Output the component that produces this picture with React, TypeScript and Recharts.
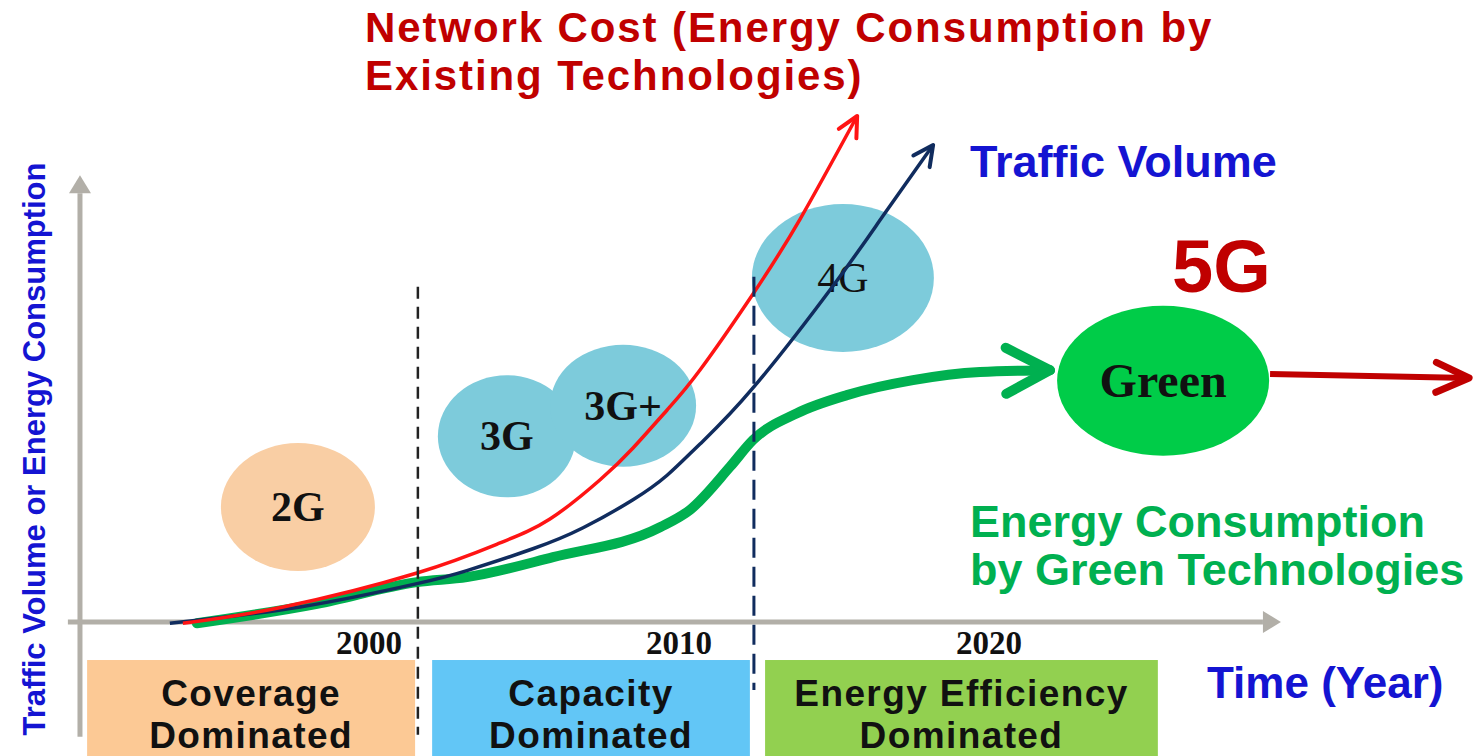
import { ComposedChart, Line, XAxis, YAxis, ReferenceDot, ReferenceArea, ReferenceLine } from 'recharts';

// x is in years, y is an arbitrary "volume / energy" unit (0 = time axis)
const yearTicks = [2000, 2010, 2020];

const networkCost = [
  { x: 1993.9, y: 0 },
  { x: 1997.13, y: 2.61 },
  { x: 2001.45, y: 8.06 },
  { x: 2004.13, y: 12.88 },
  { x: 2005.74, y: 16.73 },
  { x: 2007.35, y: 22.98 },
  { x: 2008.42, y: 28.12 },
  { x: 2009.52, y: 34.22 },
  { x: 2010.58, y: 40.63 },
  { x: 2012.29, y: 52.83 },
  { x: 2013.81, y: 64.86 },
  { x: 2015.65, y: 81.39 },
];

const trafficVolume = [
  { x: 1993.48, y: 0 },
  { x: 1997.68, y: 2.61 },
  { x: 2001.45, y: 6.36 },
  { x: 2003.06, y: 8.45 },
  { x: 2005.19, y: 11.95 },
  { x: 2006.81, y: 15.32 },
  { x: 2008.42, y: 19.81 },
  { x: 2009.52, y: 23.74 },
  { x: 2010.58, y: 28.76 },
  { x: 2012.29, y: 37.75 },
  { x: 2014.87, y: 54.11 },
  { x: 2016.48, y: 65.34 },
  { x: 2018.1, y: 76.73 },
];

const greenEnergy = [
  { x: 1994.35, y: 0 },
  { x: 1998.23, y: 3.1 },
  { x: 2001.45, y: 6.6 },
  { x: 2003.06, y: 7.4 },
  { x: 2005.84, y: 10.6 },
  { x: 2009.29, y: 15.4 },
  { x: 2010.26, y: 18.2 },
  { x: 2011.55, y: 25.1 },
  { x: 2012.29, y: 29.4 },
  { x: 2013.71, y: 33.7 },
  { x: 2015.32, y: 36.6 },
  { x: 2017.45, y: 39.0 },
  { x: 2019.61, y: 40.3 },
  { x: 2021.87, y: 40.6 },
];

const fiveGArrow = [
  { x: 2028.97, y: 40.0 },
  { x: 2035.39, y: 39.35 },
];

const yAxisLine = [
  { x: 1990.58, y: -18.2 },
  { x: 1990.58, y: 69.0 },
];
const xAxisLine = [
  { x: 1990.19, y: 0.2 },
  { x: 2028.74, y: 0.2 },
];

const techLabels = ['2G', '3G', '3G+', '4G', 'Green'];
const techX = [1997.61, 2004.35, 2008.1, 2015.19, 2025.52];
const techY = [18.65, 30.0, 34.9, 55.4, 38.9];

const eraLines = [
  ['Coverage', 'Dominated'],
  ['Capacity', 'Dominated'],
  ['Energy Efficiency', 'Dominated'],
];
const eraStart = [1990.81, 2001.94, 2012.68];
const eraEnd = [2001.39, 2012.19, 2025.35];

const phaseBreaks = [2001.48, 2012.32];
const breakTop = [54.0, 55.6];
const breakBottom = [-17.9, -10.7];

// look only
const bubbleStyle: Record<string, { rx: number; ry: number; fill: string; size: number; weight: number }> = {
  '2G': { rx: 77, ry: 64, fill: '#f9cea4', size: 42, weight: 700 },
  '3G': { rx: 69, ry: 61, fill: '#7dcbdb', size: 42, weight: 700 },
  '3G+': { rx: 73, ry: 61, fill: '#7dcbdb', size: 42, weight: 700 },
  '4G': { rx: 91, ry: 74, fill: '#7dcbdb', size: 42, weight: 400 },
  Green: { rx: 106, ry: 75, fill: '#00cc48', size: 48, weight: 700 },
};
const eraFill = ['#fcc995', '#62c6f6', '#92d050'];

const sans = 'Liberation Sans, Arial, sans-serif';
const serif = 'Liberation Serif, Times New Roman, serif';
const blue = '#1414d2';
const darkRed = '#c00000';
const green = '#00b050';

export default function App() {
  return (
    <div style={{ position: 'absolute', left: 0, top: 0, width: 1482, height: 756, background: '#fff' }}>
      <ComposedChart width={1482} height={756} margin={{ top: 0, right: 0, bottom: 0, left: 0 }}>
        <XAxis type="number" dataKey="x" domain={[1988, 1988 + 1482 / 31]} hide />
        <YAxis type="number" dataKey="y" domain={[-21.3, 100]} hide />

        {eraLines.map((lines, i) => (
          <ReferenceArea
            key={'era' + i}
            x1={eraStart[i]}
            x2={eraEnd[i]}
            y1={-21.3}
            y2={-5.9}
            zIndex={40}
            shape={(p: any) => (
              <g>
                <rect x={p.x} y={p.y} width={p.width} height={p.height} fill={eraFill[i]} />
                {lines.map((t, j) => (
                  <text
                    key={j}
                    x={p.x + p.width / 2}
                    y={p.y + 46 + j * 42}
                    textAnchor="middle"
                    fontFamily={sans}
                    fontWeight={700}
                    fontSize={37}
                    letterSpacing={1.4}
                    fill="#111"
                  >
                    {t}
                  </text>
                ))}
              </g>
            )}
          />
        ))}

        {techLabels.map((label, i) => (
          <ReferenceDot
            key={label}
            x={techX[i]}
            y={techY[i]}
            r={10}
            zIndex={50}
            shape={(p: any) => {
              const s = bubbleStyle[label];
              return (
                <g>
                  <ellipse cx={p.cx} cy={p.cy} rx={s.rx} ry={s.ry} fill={s.fill} />
                  <text
                    x={p.cx}
                    y={p.cy + s.size * 0.33}
                    textAnchor="middle"
                    fontFamily={serif}
                    fontWeight={s.weight}
                    fontSize={s.size}
                    fill="#111"
                  >
                    {label}
                  </text>
                </g>
              );
            }}
          />
        ))}

        {yearTicks.map((yr) => (
          <ReferenceDot
            key={yr}
            x={yr}
            y={0}
            r={1}
            zIndex={60}
            shape={(p: any) => (
              <text x={p.cx - 3} y={p.cy + 31} textAnchor="middle" fontFamily={serif} fontWeight={700} fontSize={33} fill="#111">
                {yr}
              </text>
            )}
          />
        ))}

        <Line data={yAxisLine} dataKey="y" type="linear" stroke="#b2afa8" strokeWidth={5} dot={false} activeDot={false} isAnimationActive={false} markerEnd="url(#axisHead)" />
        <Line data={xAxisLine} dataKey="y" type="linear" stroke="#b2afa8" strokeWidth={5} dot={false} activeDot={false} isAnimationActive={false} markerEnd="url(#axisHead)" />

        <Line data={greenEnergy} dataKey="y" type="monotone" stroke={green} strokeWidth={10} strokeLinecap="round" dot={false} activeDot={false} isAnimationActive={false} markerEnd="url(#greenHead)" />
        <Line data={trafficVolume} dataKey="y" type="natural" stroke="#102c5e" strokeWidth={3.5} dot={false} activeDot={false} isAnimationActive={false} markerEnd="url(#navyHead)" />
        <Line data={networkCost} dataKey="y" type="natural" stroke="#ff1414" strokeWidth={3.5} dot={false} activeDot={false} isAnimationActive={false} markerEnd="url(#redHead)" />
        <Line data={fiveGArrow} dataKey="y" type="linear" stroke={darkRed} strokeWidth={6} dot={false} activeDot={false} isAnimationActive={false} markerEnd="url(#darkRedHead)" />

        {phaseBreaks.map((x, i) => (
          <ReferenceLine
            key={'brk' + i}
            segment={[
              { x, y: breakTop[i] },
              { x, y: breakBottom[i] },
            ]}
            stroke={i === 0 ? '#222' : '#102c5e'}
            strokeWidth={i === 0 ? 2.5 : 3}
            strokeDasharray={i === 0 ? '12 8' : '20 9'}
            zIndex={450}
          />
        ))}
      </ComposedChart>

      <svg width={1482} height={756} style={{ position: 'absolute', left: 0, top: 0, pointerEvents: 'none' }}>
        <defs>
          <marker id="axisHead" markerUnits="userSpaceOnUse" orient="auto" markerWidth={1} markerHeight={1} refX={0} refY={0} style={{ overflow: 'visible' }}>
            <path d="M0,-11 L18,0 L0,11 Z" fill="#b2afa8" />
          </marker>
          <marker id="redHead" markerUnits="userSpaceOnUse" orient="auto" markerWidth={1} markerHeight={1} refX={0} refY={0} style={{ overflow: 'visible' }}>
            <path d="M-20,-10 L0,0 L-20,10" fill="none" stroke="#ff1414" strokeWidth={4} strokeLinecap="round" strokeLinejoin="round" />
          </marker>
          <marker id="navyHead" markerUnits="userSpaceOnUse" orient="auto" markerWidth={1} markerHeight={1} refX={0} refY={0} style={{ overflow: 'visible' }}>
            <path d="M-20,-10 L0,0 L-20,10" fill="none" stroke="#102c5e" strokeWidth={4} strokeLinecap="round" strokeLinejoin="round" />
          </marker>
          <marker id="greenHead" markerUnits="userSpaceOnUse" orient="auto" markerWidth={1} markerHeight={1} refX={0} refY={0} style={{ overflow: 'visible' }}>
            <path d="M-44,-23 L0,0 L-44,23" fill="none" stroke={green} strokeWidth={10} strokeLinecap="round" strokeLinejoin="round" />
          </marker>
          <marker id="darkRedHead" markerUnits="userSpaceOnUse" orient="auto" markerWidth={1} markerHeight={1} refX={0} refY={0} style={{ overflow: 'visible' }}>
            <path d="M-33,-15 L0,0 L-33,15" fill="none" stroke={darkRed} strokeWidth={7} strokeLinecap="round" strokeLinejoin="round" />
          </marker>
        </defs>

        <g fontFamily={sans} fontWeight={700}>
          <text x={365} y={42} fontSize={42} letterSpacing={1.9} fill={darkRed}>Network Cost (Energy Consumption by</text>
          <text x={365} y={90} fontSize={42} letterSpacing={1.9} fill={darkRed}>Existing Technologies)</text>
          <text x={970} y={177} fontSize={45} fill={blue}>Traffic Volume</text>
          <text x={1172} y={292} fontSize={74} fill={darkRed}>5G</text>
          <text x={970} y={537} fontSize={45} fill={green}>Energy Consumption</text>
          <text x={970} y={585} fontSize={45} fill={green}>by Green Technologies</text>
          <text x={1207} y={698} fontSize={44} fill={blue}>Time (Year)</text>
          <text x={45} y={449} fontSize={31} fill={blue} textAnchor="middle" transform="rotate(-90 45 449)">
            Traffic Volume or Energy Consumption
          </text>
        </g>
      </svg>
    </div>
  );
}
